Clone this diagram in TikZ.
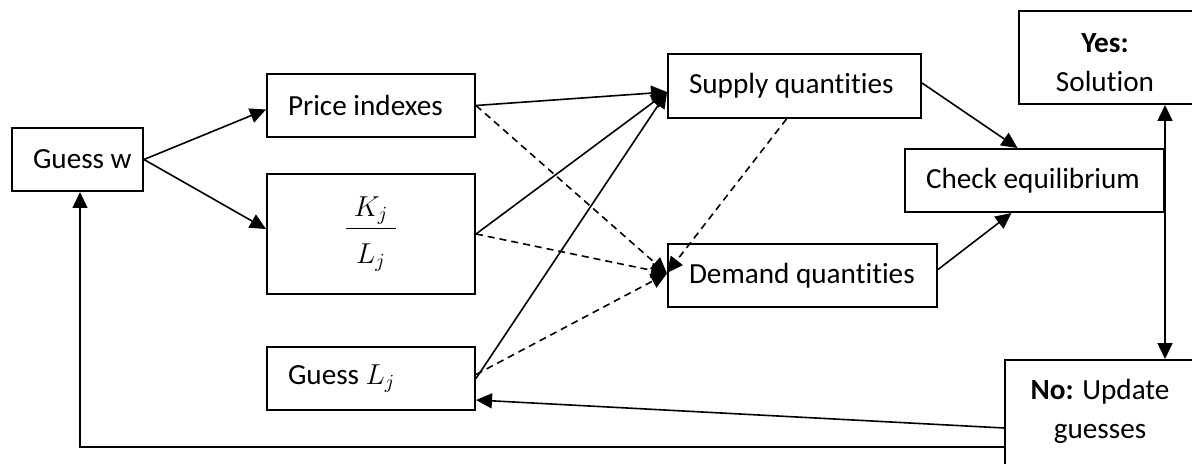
\documentclass[tikz,border=0pt]{standalone}
\usepackage{fontspec}
\setmainfont{Carlito}[Ligatures=NoCommon]
\usetikzlibrary{arrows.meta,calc}
\begin{document}
\begin{tikzpicture}[x=0.5pt,y=-0.5pt,
  font=\fontsize{14.6pt}{19.5pt}\selectfont,
  box/.style={draw, line width=1pt, anchor=north west, inner xsep=10.5pt, inner ysep=0pt},
  arr/.style={line width=0.8pt, -{Triangle[length=8pt,width=7.5pt]}},
  dsh/.style={arr, dash pattern=on 3.5pt off 2.5pt},
  both/.style={line width=0.8pt, {Triangle[length=8pt,width=7.5pt]}-{Triangle[length=8pt,width=7.5pt]}}]
\useasboundingbox (0,0) rectangle (1192,464);
\begin{scope}
\clip (0,0) rectangle (1192,464);

% boxes
\node[box, minimum height=31.5pt] (gw) at (11,127) {\makebox[44.5pt][l]{Guess w}};
\node[box, minimum height=31.5pt] (pi) at (266,73) {\makebox[83pt][l]{Price indexes}};
\node[box, minimum height=60pt] (kl) at (266,173)
  {\makebox[83pt]{$\displaystyle\frac{\;K_j\;}{\;L_j\rule{0pt}{16pt}\;}$}};
\node[box, minimum height=31.5pt] (gl) at (266,346) {\makebox[83pt][l]{Guess $L_j$}};
\node[box, minimum height=32pt] (sq) at (667,53) {\makebox[105.5pt][l]{Supply quantities}};
\node[box, minimum height=31.5pt] (dq) at (667,243) {\makebox[113.5pt][l]{Demand quantities}};
\node[box, minimum height=31.5pt] (ce) at (904,148) {\makebox[108.5pt][l]{Check equilibrium}};
\node[box, inner sep=0pt, minimum width=89pt, minimum height=46.5pt] (yes) at (1018,10) {};
\node[align=center, inner sep=0pt] (yest) at (1105,62.5) {\textbf{Yes:}\\Solution};
\node[box, inner sep=0pt, minimum width=96pt, minimum height=60.5pt] (no) at (1004,359) {};
\node[align=center, inner sep=0pt] (not) at (1100,411) {\textbf{No:} Update\\guesses};

% guess of w feeds the price indexes and capital-labour ratios
\draw[arr] (gw.east) -- ($(pi.west)+(0,4)$);
\draw[arr] (gw.east) -- ($(kl.west)+(0,-5)$);

% inputs of supply
\draw[arr] (pi.east) -- ($(sq.west)+(0,6)$);
\draw[arr] (kl.east) -- ($(sq.west)+(0,6)$);
\draw[arr] (gl.east) -- ($(sq.west)+(0,6)$);

% inputs of demand
\draw[dsh] (pi.east) -- ($(dq.west)+(0,-2)$);
\draw[dsh] (kl.east) -- ($(dq.west)+(0,-2)$);
\draw[dsh] ($(gl.east)+(0,-4)$) -- ($(dq.west)+(0,-2)$);
\draw[dsh] ($(sq.south)+(-8,0)$) -- ($(dq.west)+(0,-2.5)$);

% equilibrium check
\draw[arr] ($(sq.east)+(0,-3)$) -- ($(ce.north)+(-17,0)$);
\draw[arr] ($(dq.east)+(0,-6)$) -- ($(ce.south)+(-23,0)$);
\draw[both] (ce.east |- yes.south) -- (ce.east |- no.north);

% update loop
\draw[arr] ($(no.west)+(0,7.5)$) -- ($(gl.east)+(0,21.5)$);
\draw[arr] ($(no.west)+(0,26.5)$) -| ($(gw.south)+(2.5,0)$);
\end{scope}
\end{tikzpicture}
\end{document}
